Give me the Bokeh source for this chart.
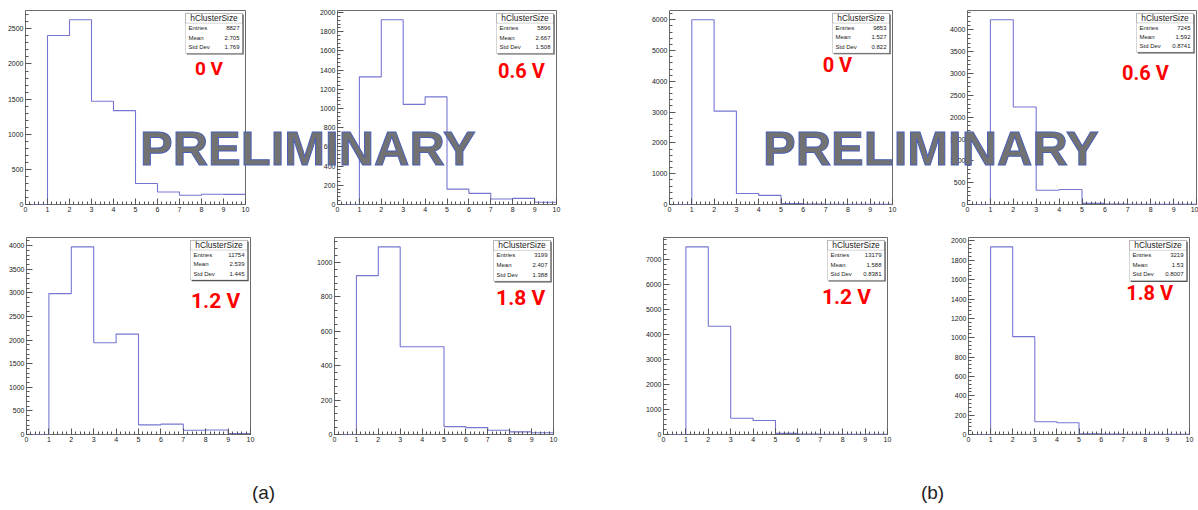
from bokeh.plotting import figure
from bokeh.models import Range1d, SingleIntervalTicker, BasicTickFormatter, BoxAnnotation, Label, Div
from bokeh.layouts import row, column
from bokeh.embed import file_html
from bokeh.resources import INLINE

# ---- data -------------------------------------------------------------
bin_edges = [0, 1, 2, 3, 4, 5, 6, 7, 8, 9, 10]

# hClusterSize counts, bins [0,1) ... [9,10)
counts_a_0v = [0, 2405, 2630, 1470, 1336, 298, 177, 132, 145, 144]
counts_a_06v = [0, 1330, 1925, 1043, 1121, 160, 116, 57, 64, 24]
counts_a_12v = [0, 2984, 3973, 1942, 2126, 204, 219, 89, 96, 20]
counts_a_18v = [0, 923, 1090, 510, 510, 46, 40, 25, 15, 10]
counts_b_0v = [0, 6000, 3032, 357, 295, 30, 15, 8, 5, 3]
counts_b_06v = [0, 4233, 2234, 327, 343, 25, 12, 6, 4, 2]
counts_b_12v = [0, 7522, 4342, 652, 561, 45, 20, 10, 6, 4]
counts_b_18v = [0, 1939, 1011, 131, 121, 8, 4, 2, 1, 1]

voltages = ["0 V", "0.6 V", "1.2 V", "1.8 V"]
entries_a = ["8827", "5896", "11754", "3199"]
means_a = ["2.705", "2.667", "2.539", "2.407"]
stddevs_a = ["1.769", "1.508", "1.445", "1.388"]
entries_b = ["9853", "7245", "13179", "3219"]
means_b = ["1.527", "1.592", "1.588", "1.53"]
stddevs_b = ["0.822", "0.8741", "0.8381", "0.8007"]

y_steps_a = [500, 200, 500, 200]
y_steps_b = [1000, 500, 1000, 200]

# ---- styling ------------------------------------------------------------
HIST_COLOR = "#7676d2"
FRAME_COLOR = "#6a6a6a"
TICK_FONT = "Liberation Sans"
VOLT_FONT = "Roboto"


def make_panel(counts, step, geom, entries, mean, std, volt, vpos, vsize):
    W, H, bl, br, bt, bb = geom
    fw, fh = W - bl - br, H - bt - bb
    ymax = 1.05 * max(counts)
    p = figure(width=W, height=H, x_range=Range1d(0, 10), y_range=Range1d(0, ymax),
               output_backend="svg", toolbar_location=None,
               min_border_left=bl, min_border_right=br,
               min_border_top=bt, min_border_bottom=bb)
    p.background_fill_color = "white"
    p.border_fill_color = "white"
    p.outline_line_color = FRAME_COLOR
    p.outline_line_width = 1
    p.grid.visible = False

    p.xaxis.ticker = SingleIntervalTicker(interval=1, num_minor_ticks=5)
    p.yaxis.ticker = SingleIntervalTicker(interval=step, num_minor_ticks=5)
    p.yaxis.formatter = BasicTickFormatter(use_scientific=False)
    for ax in (p.xaxis[0], p.yaxis[0]):
        ax.axis_line_color = None
        ax.major_tick_in = 6
        ax.major_tick_out = 0
        ax.minor_tick_in = 3
        ax.minor_tick_out = 0
        ax.major_tick_line_color = "#555555"
        ax.minor_tick_line_color = "#555555"
        ax.major_label_text_font = TICK_FONT
        ax.major_label_text_font_size = "7px"
        ax.major_label_text_color = "#222222"
        ax.major_label_standoff = 2

    # histogram outline
    p.step(x=bin_edges, y=counts + [counts[-1]], mode="after",
           line_color=HIST_COLOR, line_width=1.1)

    # statistics box (sizes in pixels converted to data units)
    px_x = 10.0 / fw
    px_y = ymax / fh
    b_right = 10 - 3 * px_x
    b_left = b_right - 57 * px_x
    b_top = ymax - 3 * px_y
    b_bottom = b_top - 41 * px_y
    p.add_layout(BoxAnnotation(left=b_left + 1.2 * px_x, right=b_right + 1.2 * px_x,
                               top=b_top - 1.2 * px_y, bottom=b_bottom - 1.2 * px_y,
                               fill_color="#555555", fill_alpha=1, line_color=None))
    p.add_layout(BoxAnnotation(left=b_left, right=b_right, top=b_top, bottom=b_bottom,
                               fill_color="white", fill_alpha=1,
                               line_color="#555555", line_width=0.8))
    p.add_layout(BoxAnnotation(left=b_left, right=b_right, top=b_top,
                               bottom=b_top - 10 * px_y, fill_alpha=0,
                               line_color="#555555", line_width=0.8))
    p.add_layout(Label(x=(b_left + b_right) / 2, y=b_top - 5 * px_y, text="hClusterSize",
                       text_align="center", text_baseline="middle",
                       text_font=TICK_FONT, text_font_size="8.4px", text_color="#222222"))
    for r, (name, val) in enumerate([("Entries", entries), ("Mean", mean), ("Std Dev", std)]):
        yy = b_top - (15 + 9.7 * r) * px_y
        p.add_layout(Label(x=b_left + 3 * px_x, y=yy, text=name, text_align="left",
                           text_baseline="middle", text_font=TICK_FONT,
                           text_font_size="6px", text_color="#222222"))
        p.add_layout(Label(x=b_right - 3 * px_x, y=yy, text=val, text_align="right",
                           text_baseline="middle", text_font=TICK_FONT,
                           text_font_size="6px", text_color="#222222"))

    # bias voltage tag
    p.add_layout(Label(x=10 * vpos[0], y=ymax * (1 - vpos[1]), text=volt,
                       text_align="center", text_baseline="middle",
                       text_font=VOLT_FONT, text_font_style="bold",
                       text_font_size=vsize, text_color="#ff0000"))
    return p


# figure geometry: width, height, border left/right/top/bottom
geo_top = [(290, 226, 25, 45, 5, 22), (310, 226, 47, 44, 8, 19),
           (300, 226, 69, 8, 10, 16), (298, 226, 67, 2, 7, 15)]
geo_bot = [(290, 230, 26, 40, 7, 19), (310, 230, 44, 47, 11, 21),
           (300, 230, 63, 13, 10, 18), (298, 230, 68, 9, 8, 22)]

pa0 = make_panel(counts_a_0v, y_steps_a[0], geo_top[0], entries_a[0], means_a[0], stddevs_a[0],
                 voltages[0], (0.834, 0.30), "19px")
pa06 = make_panel(counts_a_06v, y_steps_a[1], geo_top[1], entries_a[1], means_a[1], stddevs_a[1],
                  voltages[1], (0.84, 0.314), "20px")
pb0 = make_panel(counts_b_0v, y_steps_b[0], geo_top[2], entries_b[0], means_b[0], stddevs_b[0],
                 voltages[0], (0.753, 0.28), "20px")
pb06 = make_panel(counts_b_06v, y_steps_b[1], geo_top[3], entries_b[1], means_b[1], stddevs_b[1],
                  voltages[1], (0.777, 0.32), "20px")
pa12 = make_panel(counts_a_12v, y_steps_a[2], geo_bot[0], entries_a[2], means_a[2], stddevs_a[2],
                  voltages[2], (0.844, 0.32), "21px")
pa18 = make_panel(counts_a_18v, y_steps_a[3], geo_bot[1], entries_a[3], means_a[3], stddevs_a[3],
                  voltages[3], (0.85, 0.305), "21px")
pb12 = make_panel(counts_b_12v, y_steps_b[2], geo_bot[2], entries_b[2], means_b[2], stddevs_b[2],
                  voltages[2], (0.817, 0.30), "21px")
pb18 = make_panel(counts_b_18v, y_steps_b[3], geo_bot[3], entries_b[3], means_b[3], stddevs_b[3],
                  voltages[3], (0.82, 0.28), "20px")

caption = figure(width=1198, height=54, x_range=Range1d(0, 1), y_range=Range1d(0, 1),
                 output_backend="svg", toolbar_location=None, min_border=0)
caption.axis.visible = False
caption.grid.visible = False
caption.outline_line_color = None
caption.border_fill_color = "white"
for cx, txt in ((263, "(a)"), (932, "(b)")):
    caption.add_layout(Label(x=cx, y=36, x_units="canvas", y_units="canvas", text=txt,
                             text_align="center", text_baseline="middle",
                             text_font=TICK_FONT, text_font_size="19px", text_color="#222222"))


# watermark text floats over neighbouring plots, so it sits in an overlay
def watermark(left, top):
    html = ('<span style="font-family:\'Liberation Sans\';font-weight:bold;font-size:49px;'
            'line-height:49px;color:#727272;-webkit-text-stroke:1px #4a5fb5;'
            'white-space:nowrap;">PRELIMINARY</span>')
    return Div(text=html, width=360, height=50,
               styles={"position": "absolute", "left": f"{left}px", "top": f"{top}px",
                       "z-index": "10", "pointer-events": "none", "margin": "0"})


layout = column(row(pa0, pa06, pb0, pb06, spacing=0),
                row(pa12, pa18, pb12, pb18, spacing=0),
                caption, watermark(140, 124), watermark(763, 124), spacing=0)

open("out.html", "w").write(file_html(layout, INLINE))
